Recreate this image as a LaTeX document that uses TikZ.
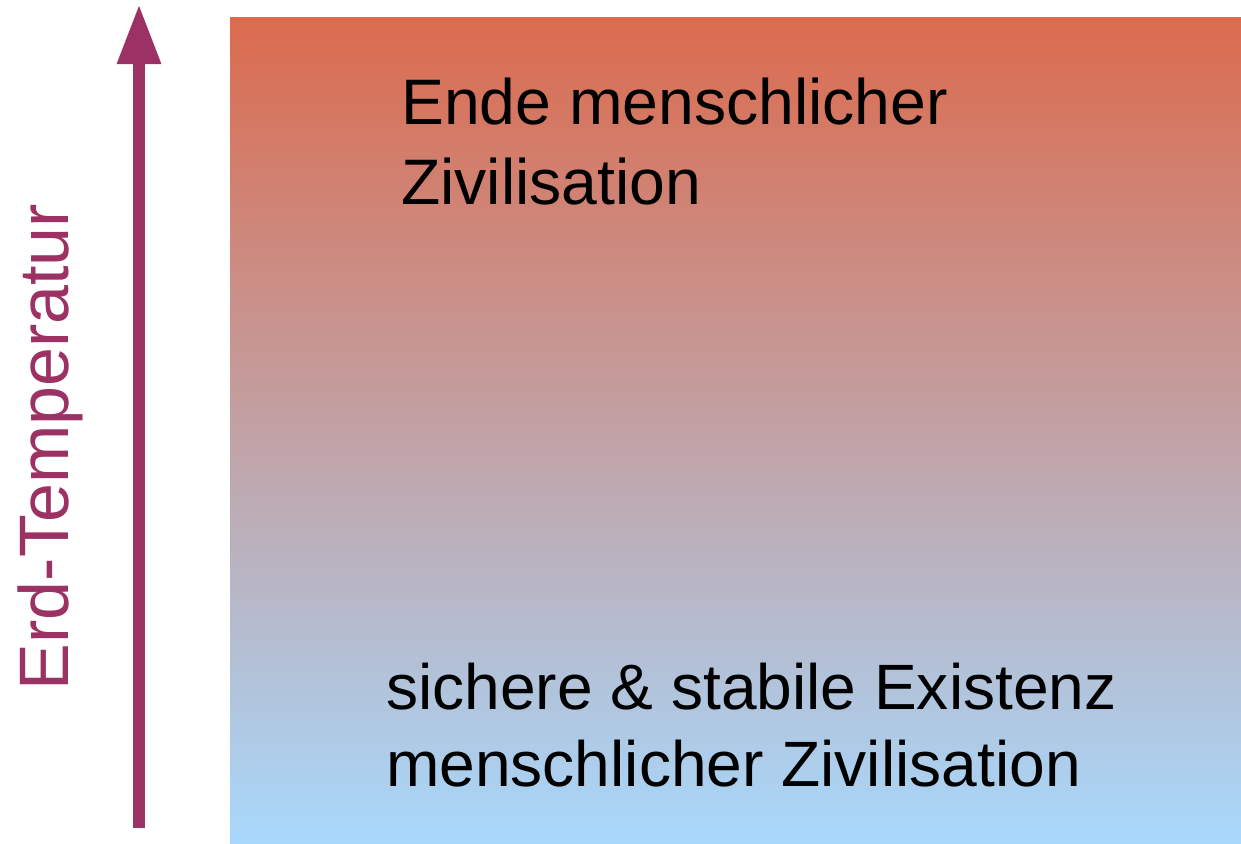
\documentclass[tikz,border=0pt]{standalone}
\usepackage{fontspec}
\setmainfont{Liberation Sans}
\usetikzlibrary{arrows.meta}
\definecolor{hot}{RGB}{219,107,78}
\definecolor{cool}{RGB}{168,216,252}
\definecolor{axiscol}{RGB}{155,50,99}
\tikzset{
  zone/.style={anchor=north west, inner sep=0pt, align=left, text=black},
  axislabel/.style={rotate=90, anchor=base, inner sep=0pt, text=axiscol,
    font=\fontsize{70}{80}\selectfont},
  axisarrow/.style={draw=axiscol, line width=12pt,
    -{Triangle[length=60pt,width=41pt]}}
}
\begin{document}
\begin{tikzpicture}[x=1pt,y=-1pt]
  \useasboundingbox (0,0) rectangle (1241,843);
  % temperature field
  \shade[top color=hot, bottom color=cool] (230,18) rectangle (1241,843);
  % temperature axis
  \coordinate (axisfoot) at (139,828);
  \coordinate (axistip) at (139,4);
  \draw[axisarrow] (axisfoot) -- (axistip);
  \node[axislabel] (ylabel) at (68,447) {Erd-Temperatur};
  % zone descriptions
  \node[zone, font=\fontsize{64.3}{80}\selectfont] (hotzone) at (401,78)
    {Ende menschlicher\\Zivilisation};
  \node[zone, font=\fontsize{64.1}{77}\selectfont] (safezone) at (386,663)
    {sichere \& stabile Existenz\\menschlicher Zivilisation};
\end{tikzpicture}
\end{document}
